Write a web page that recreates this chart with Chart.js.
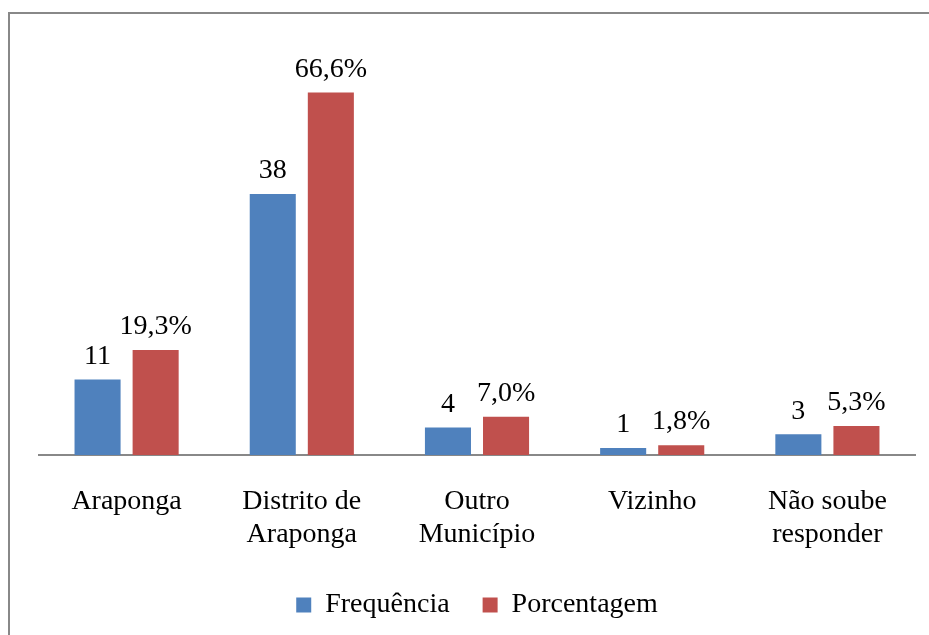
<!DOCTYPE html>
<html>
<head>
<meta charset="utf-8">
<script src="https://cdn.jsdelivr.net/npm/chart.js@4/dist/chart.umd.min.js"></script>
<style>
  html, body { margin: 0; padding: 0; background: #fff; overflow: hidden; }
  #wrap { position: relative; width: 929px; height: 635px; }
  #frame { position: absolute; left: 8px; top: 12px; width: 1000px; height: 700px; border: 2px solid #888; box-sizing: border-box; }
  canvas { position: absolute; left: 0; top: 0; }
</style>
</head>
<body>
<div id="wrap">
  <div id="frame"></div>
  <canvas id="bar_chart" width="929" height="635"></canvas>
</div>
<script>
// categorias e valores
const categorias = [['Araponga'], ['Distrito de', 'Araponga'], ['Outro', 'Município'], ['Vizinho'], ['Não soube', 'responder']];
const frequencia = [11, 38, 4, 1, 3];
const porcentagem = [19.3, 66.6, 7.0, 1.8, 5.3];

const fonte = 'Liberation Serif, Times New Roman, serif';

// rótulos acima das barras
const rotulos = {
    id: 'rotulos',
    afterDatasetsDraw: function (chart) {
        let ctx = chart.ctx;
        ctx.save();
        ctx.font = '28px ' + fonte;
        ctx.fillStyle = '#000';
        ctx.textAlign = 'center';
        ctx.textBaseline = 'bottom';
        chart.data.datasets.forEach(function (ds, i) {
            chart.getDatasetMeta(i).data.forEach(function (bar, j) {
                let v = ds.data[j];
                let txt = i === 0 ? String(v) : v.toFixed(1).replace('.', ',') + '%';
                ctx.fillText(txt, bar.x, bar.y - 9);
            });
        });
        ctx.restore();
    }
};

let ctx = document.getElementById('bar_chart').getContext('2d');
let myChart = new Chart(ctx, {
    type: 'bar',
    data: {
        labels: categorias,
        datasets: [{
                label: 'Frequência',
                data: frequencia,
                backgroundColor: '#4F81BD',
                yAxisID: 'y',
                categoryPercentage: 0.663,
                barPercentage: 0.793
            },
            {
                label: 'Porcentagem',
                data: porcentagem,
                backgroundColor: '#C0504D',
                yAxisID: 'y1',
                categoryPercentage: 0.663,
                barPercentage: 0.793
            }
        ]
    },
    options: {
        responsive: false,
        animation: false,
        layout: {
            padding: { left: 39, right: 14, top: 30, bottom: 6 }
        },
        plugins: {
            tooltip: { enabled: false },
            legend: {
                position: 'bottom',
                labels: {
                    font: { family: fonte, size: 28 },
                    color: '#000',
                    boxWidth: 15,
                    boxHeight: 15,
                    padding: 12,
                    generateLabels: function (chart) {
                        let items = Chart.defaults.plugins.legend.labels.generateLabels(chart);
                        items.forEach(function (it, i) {
                            if (i < items.length - 1) it.text = it.text + '\u2002 ';
                        });
                        return items;
                    }
                }
            }
        },
        scales: {
            x: {
                grid: { display: false },
                border: { color: '#888', width: 2 },
                ticks: {
                    color: '#000',
                    font: { family: fonte, size: 28, lineHeight: 1.18 },
                    padding: 22,
                    maxRotation: 0
                },
                afterFit: function (scale) {
                    scale.height += 6;
                }
            },
            y: { display: false, min: 0, max: 61.9 },
            y1: { display: false, min: 0, max: 78.1 }
        }
    },
    plugins: [rotulos]
});
</script>
</body>
</html>
